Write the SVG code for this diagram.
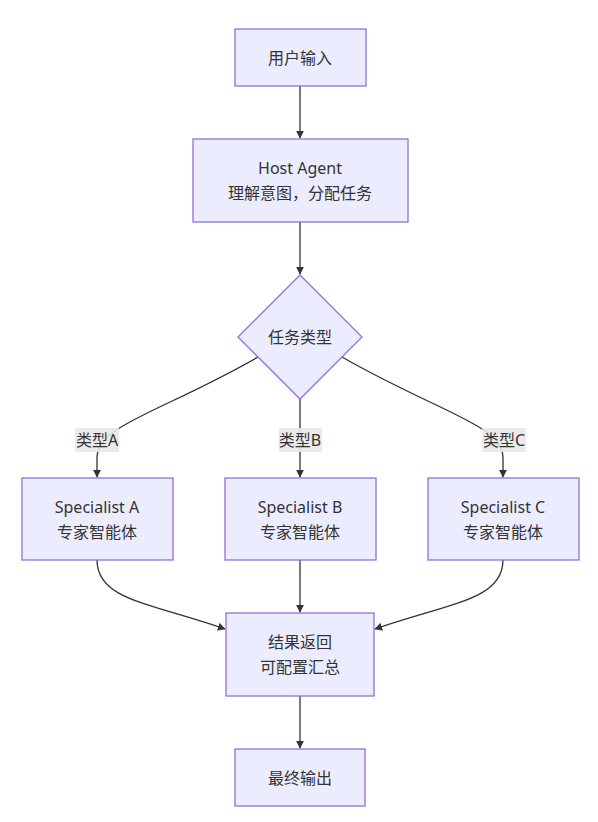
<svg xmlns="http://www.w3.org/2000/svg" width="598" height="822" viewBox="0 0 598 822">
<style>
.node rect,.node polygon{fill:#ECECFF;stroke:#9370DB;stroke-width:1.3}
text{font-family:"Noto Sans","Noto Sans CJK SC",sans-serif;font-size:16px;fill:#333;text-anchor:middle;dominant-baseline:central}
.edge{fill:none;stroke:#333;stroke-width:1.3}
.lbl rect{fill:#e8e8e8;opacity:0.9}
</style>
<defs>
<marker id="arr" viewBox="0 0 10 10" refX="9" refY="5" markerWidth="8" markerHeight="8" orient="auto" markerUnits="userSpaceOnUse">
<path d="M0,0 L10,5 L0,10 z" fill="#333"/>
</marker>
</defs>
<rect width="598" height="822" fill="#fff"/>
<g id="edges">
<path class="edge" d="M300,86 L300,138" marker-end="url(#arr)"/>
<path class="edge" d="M300,222 L300,274" marker-end="url(#arr)"/>
<path class="edge" d="M258,357 C160,413 97,425 97,458 L97,477" marker-end="url(#arr)"/>
<path class="edge" d="M300,399 L300,477" marker-end="url(#arr)"/>
<path class="edge" d="M342,357 C440,413 503,425 503,458 L503,477" marker-end="url(#arr)"/>
<path class="edge" d="M97,560 C97,600 150,603 225,629" marker-end="url(#arr)"/>
<path class="edge" d="M300,560 L300,612" marker-end="url(#arr)"/>
<path class="edge" d="M503,560 C503,600 450,603 375,629" marker-end="url(#arr)"/>
<path class="edge" d="M300,696 L300,748" marker-end="url(#arr)"/>
<g class="lbl" id="label-A"><rect x="75" y="428" width="44" height="24"/><text x="97" y="440">类型A</text></g>
<g class="lbl" id="label-B"><rect x="279" y="428" width="43" height="24"/><text x="300" y="440">类型B</text></g>
<g class="lbl" id="label-C"><rect x="482" y="428" width="44" height="24"/><text x="504" y="440">类型C</text></g>
</g>
<g class="node" id="input"><rect x="235" y="29" width="131" height="57"/><text x="300" y="57.5">用户输入</text></g>
<g class="node" id="host"><rect x="193" y="139" width="215" height="83"/><text x="300" y="168">Host Agent</text><text x="300" y="193">理解意图，分配任务</text></g>
<g class="node" id="decision"><polygon points="300,275 362,337 300,399 238,337"/><text x="300" y="337">任务类型</text></g>
<g class="node" id="specA"><rect x="22" y="478" width="151" height="82"/><text x="97" y="507">Specialist A</text><text x="97" y="532">专家智能体</text></g>
<g class="node" id="specB"><rect x="225" y="478" width="151" height="82"/><text x="300" y="507">Specialist B</text><text x="300" y="532">专家智能体</text></g>
<g class="node" id="specC"><rect x="428" y="478" width="151" height="82"/><text x="503" y="507">Specialist C</text><text x="503" y="532">专家智能体</text></g>
<g class="node" id="merge"><rect x="226" y="613" width="148" height="83"/><text x="300" y="642">结果返回</text><text x="300" y="667">可配置汇总</text></g>
<g class="node" id="output"><rect x="235" y="749" width="130" height="57"/><text x="300" y="777.5">最终输出</text></g>
</svg>
